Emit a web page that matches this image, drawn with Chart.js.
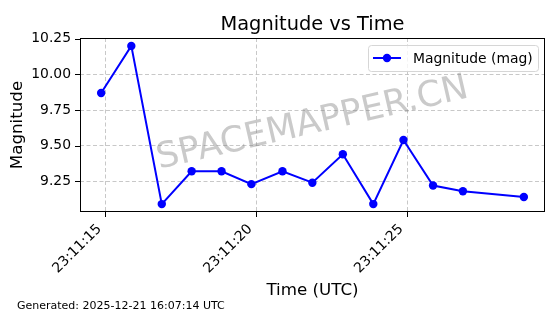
<!DOCTYPE html>
<html>
<head>
<meta charset="utf-8">
<script src="https://cdn.jsdelivr.net/npm/chart.js@4.4.0/dist/chart.umd.min.js"></script>
<style>
html, body { margin: 0; padding: 0; background: #fff; }
</style>
</head>
<body>
<canvas id="myChart" width="560" height="314"></canvas>
<script>
// data (seconds after 23:11:00 UTC)
let timeSec = [14.86, 15.86, 16.87, 17.86, 18.85, 19.84, 20.87, 21.86, 22.87, 23.88, 24.88, 25.86, 26.85, 28.87];
let magnitude = [9.87, 10.20, 9.09, 9.32, 9.32, 9.23, 9.32, 9.24, 9.44, 9.09, 9.54, 9.22, 9.18, 9.14];

let xTickValues = [15, 20, 25];
let xTickLabels = ['23:11:15', '23:11:20', '23:11:25'];
let yTickValues = [9.25, 9.50, 9.75, 10.00, 10.25];

let seriesLabel = 'Magnitude (mag)';
let titleText = 'Magnitude vs Time';
let footerText = 'Generated: 2025-12-21 16:07:14 UTC';

// matplotlib style 5% margins
function margins(arr) {
    let lo = Math.min(...arr), hi = Math.max(...arr), m = (hi - lo) * 0.05;
    return [lo - m, hi + m];
}
let xr = margins(timeSec);
let yr = margins(magnitude);

let font = 'DejaVu Sans';

let decor = {
    id: 'decor',
    afterDraw(chart) {
        let ctx = chart.ctx, a = chart.chartArea;
        let xs = chart.scales.x, ys = chart.scales.y;
        ctx.save();

        // watermark
        ctx.save();
        ctx.translate((a.left + a.right) / 2, 124);
        ctx.rotate(-13 * Math.PI / 180);
        ctx.font = '35.5px "' + font + '"';
        ctx.fillStyle = 'rgba(128,128,128,0.42)';
        ctx.textAlign = 'center';
        ctx.textBaseline = 'middle';
        ctx.fillText('SPACEMAPPER.CN', 0, 0);
        ctx.restore();

        // frame
        ctx.strokeStyle = '#000';
        ctx.lineWidth = 1;
        ctx.strokeRect(a.left + 0.5, a.top + 0.5, a.right - a.left - 1, a.bottom - a.top - 1);

        // tick marks
        ctx.beginPath();
        xTickValues.forEach(function (v) {
            let px = Math.round(xs.getPixelForValue(v)) + 0.5;
            ctx.moveTo(px, a.bottom);
            ctx.lineTo(px, a.bottom + 5);
        });
        yTickValues.forEach(function (v) {
            let py = Math.round(ys.getPixelForValue(v)) + 0.5;
            ctx.moveTo(a.left - 5, py);
            ctx.lineTo(a.left, py);
        });
        ctx.stroke();

        // title
        ctx.fillStyle = '#000';
        ctx.textAlign = 'center';
        ctx.textBaseline = 'alphabetic';
        ctx.font = '19.4px "' + font + '"';
        ctx.fillText(titleText, (a.left + a.right) / 2, 30);

        // axis titles
        ctx.font = '16.7px "' + font + '"';
        ctx.fillText('Time (UTC)', (a.left + a.right) / 2, 295);
        ctx.save();
        ctx.translate(22, (a.top + a.bottom) / 2);
        ctx.rotate(-Math.PI / 2);
        ctx.fillText('Magnitude', 0, 0);
        ctx.restore();

        // footer
        ctx.textAlign = 'left';
        ctx.font = '11px "' + font + '"';
        ctx.fillText(footerText, 17, 309);

        // legend
        let lx = 368, ly = 45, lw = 170, lh = 26;
        ctx.beginPath();
        ctx.roundRect(lx + 0.5, ly + 0.5, lw, lh, 3);
        ctx.fillStyle = 'rgba(255,255,255,0.8)';
        ctx.fill();
        ctx.strokeStyle = '#d6d6d6';
        ctx.stroke();
        let cy = ly + lh / 2;
        ctx.strokeStyle = '#0000ff';
        ctx.lineWidth = 2;
        ctx.beginPath();
        ctx.moveTo(373, cy);
        ctx.lineTo(401, cy);
        ctx.stroke();
        ctx.fillStyle = '#0000ff';
        ctx.beginPath();
        ctx.arc(387, cy, 4.2, 0, Math.PI * 2);
        ctx.fill();
        ctx.fillStyle = '#000';
        ctx.font = '13.9px "' + font + '"';
        ctx.textBaseline = 'middle';
        ctx.fillText(seriesLabel, 413, cy + 1);

        ctx.restore();
    }
};

let ctx = document.getElementById('myChart').getContext('2d');
let chart = new Chart(ctx, {
    type: 'line',
    data: {
        datasets: [{
            label: seriesLabel,
            data: timeSec.map(function (t, i) { return { x: t, y: magnitude[i] }; }),
            borderColor: '#0000ff',
            backgroundColor: '#0000ff',
            borderWidth: 2,
            pointRadius: 4.2,
            pointHoverRadius: 4.2,
            pointBorderWidth: 0,
            tension: 0
        }]
    },
    options: {
        responsive: false,
        devicePixelRatio: 1,
        animation: false,
        events: [],
        layout: { padding: { left: 0, right: 15, top: 38, bottom: 0 } },
        plugins: {
            legend: { display: false },
            title: { display: false },
            tooltip: { enabled: false }
        },
        scales: {
            x: {
                type: 'linear',
                min: xr[0],
                max: xr[1],
                afterFit: function (s) { s.height = 102; },
                afterBuildTicks: function (s) { s.ticks = xTickValues.map(function (v) { return { value: v }; }); },
                grid: { color: 'rgba(176,176,176,0.7)', lineWidth: 1, drawTicks: false },
                border: { display: false, dash: [4, 2.5] },
                ticks: {
                    autoSkip: false,
                    minRotation: 45,
                    maxRotation: 45,
                    padding: 9,
                    labelOffset: -6,
                    color: '#000',
                    font: { family: font, size: 13.9 },
                    callback: function (v) {
                        let i = xTickValues.indexOf(v);
                        return i >= 0 ? xTickLabels[i] : '';
                    }
                }
            },
            y: {
                type: 'linear',
                min: yr[0],
                max: yr[1],
                afterFit: function (s) { s.width = 80; },
                afterBuildTicks: function (s) { s.ticks = yTickValues.map(function (v) { return { value: v }; }); },
                grid: { color: 'rgba(176,176,176,0.7)', lineWidth: 1, drawTicks: false },
                border: { display: false, dash: [4, 2.5] },
                ticks: {
                    padding: 9,
                    color: '#000',
                    font: { family: font, size: 13.9 },
                    callback: function (v) { return v.toFixed(2); }
                }
            }
        }
    },
    plugins: [decor]
});
</script>
</body>
</html>
